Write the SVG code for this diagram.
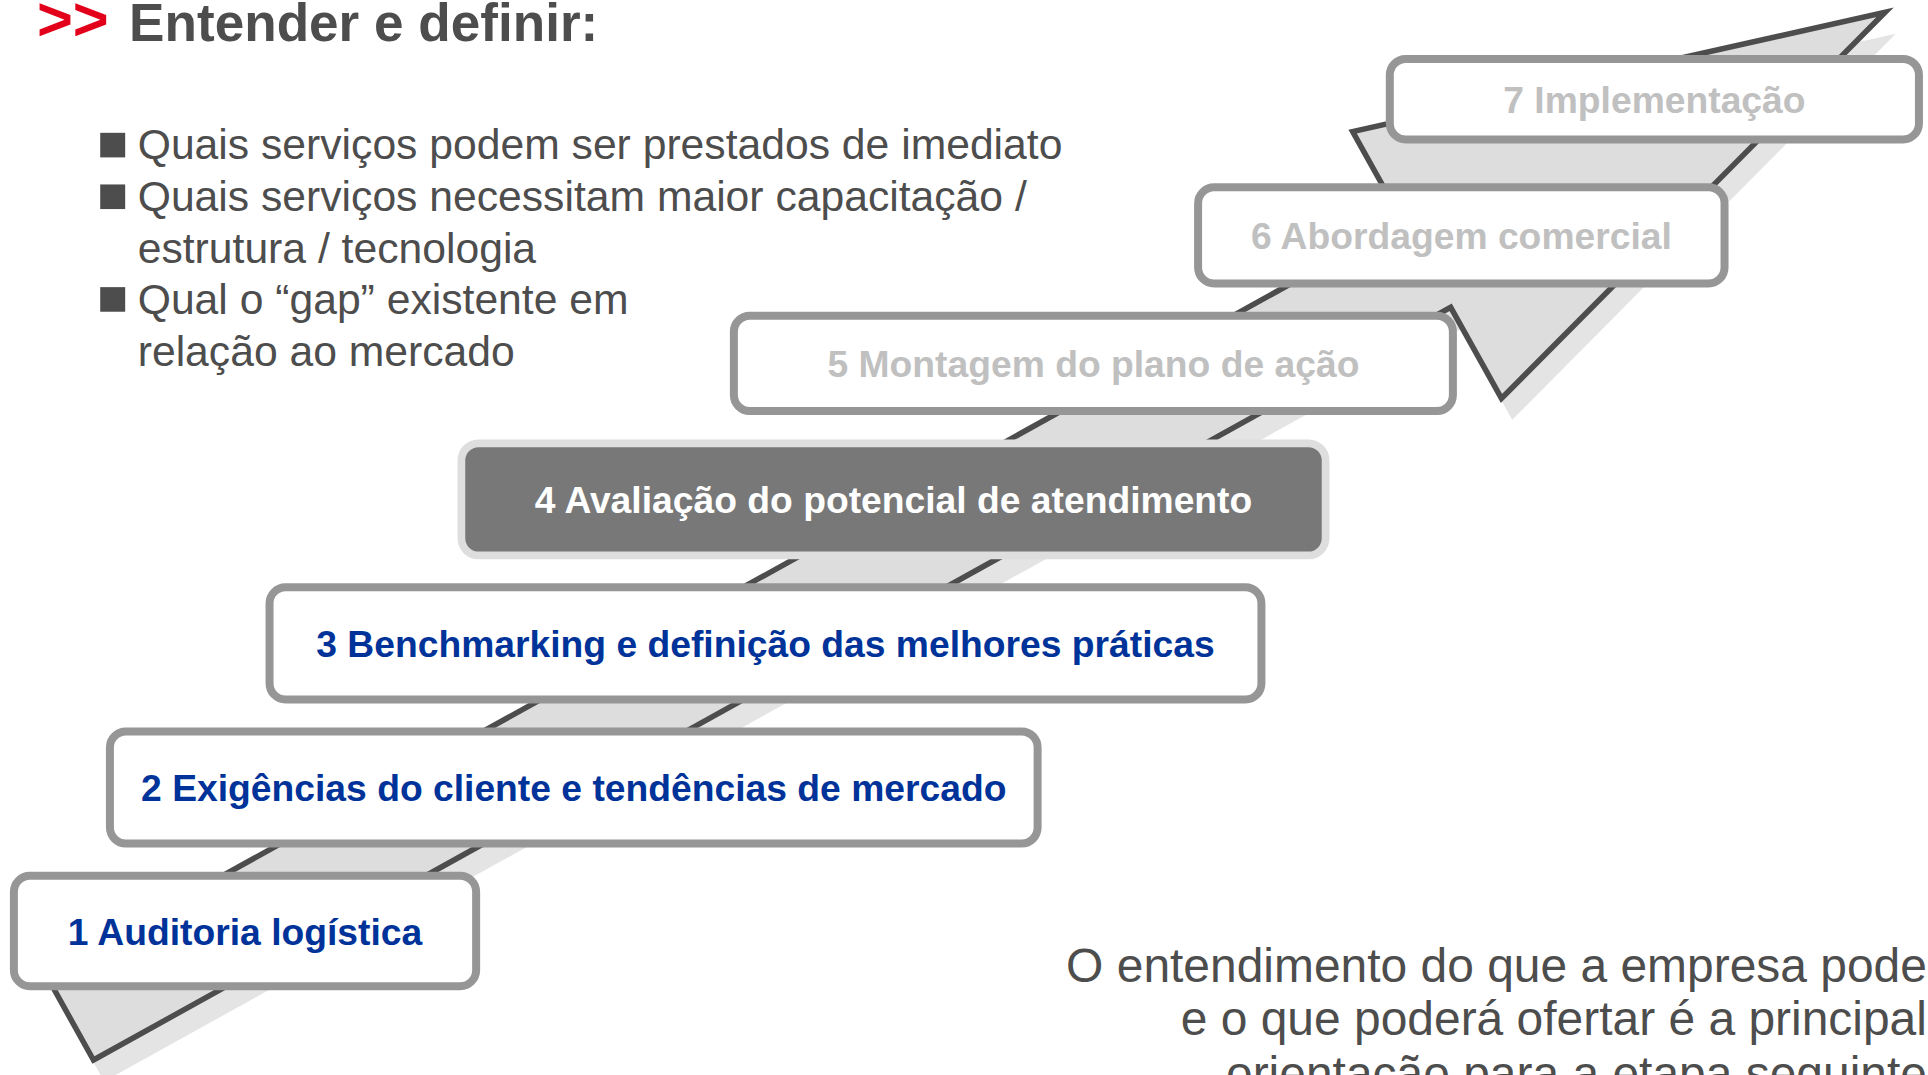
<svg xmlns="http://www.w3.org/2000/svg" width="1928" height="1075" viewBox="0 0 1928 1075">
  <style>
    .box { fill: #ffffff; stroke: #969696; stroke-width: 6.5; }
    .box4 { fill: #787878; stroke: #dedede; stroke-width: 6.3; }
    .lbl { font-family: "Liberation Sans", Arial, sans-serif; font-weight: bold; font-size: 30.3px; text-anchor: middle; }
    .blue { fill: #003399; }
    .white { fill: #ffffff; }
    .pale { fill: #c0c0c0; }
    .body { font-family: "Liberation Sans", Arial, sans-serif; font-size: 34.7px; fill: #4d4d4d; }
    .note { font-family: "Liberation Sans", Arial, sans-serif; font-size: 39px; fill: #4d4d4d; text-anchor: end; }
    .bullet { fill: #4d4d4d; }
  </style>
  <rect width="1928" height="1075" fill="#ffffff"/>
  <g transform="scale(1.2297)">
    <g id="backdrop-arrow">
      <polygon points="84.7,879.4 1188.4,267.3 1229.7,341.4 1541.7,27.4 1108.7,124.4 1149.5,197.6 45.7,809.4" fill="#e4e4e4"/>
      <polygon points="76,862 1179.7,249.9 1221,324 1533,10 1100,107 1140.8,180.2 37,792" fill="#dddddd" stroke="#4d4d4d" stroke-width="4.5" stroke-linejoin="miter"/>
    </g>

    <g id="heading">
      <text x="30" y="32.5" font-family="Liberation Sans, Arial, sans-serif" font-weight="bold" font-size="50" fill="#e2001a">&gt;&gt;</text>
      <text x="105" y="33" font-family="Liberation Sans, Arial, sans-serif" font-weight="bold" font-size="43.2" fill="#4d4d4d">Entender e definir:</text>
    </g>

    <g id="bullets">
      <rect class="bullet" x="81.5" y="108" width="20.3" height="20"/>
      <rect class="bullet" x="81.5" y="150" width="20.3" height="20"/>
      <rect class="bullet" x="81.5" y="233.5" width="20.3" height="20"/>
      <text class="body" x="112" y="129.5">Quais serviços podem ser prestados de imediato</text>
      <text class="body" x="112" y="171.5">Quais serviços necessitam maior capacitação /</text>
      <text class="body" x="112" y="213.5">estrutura / tecnologia</text>
      <text class="body" x="112" y="255.5">Qual o “gap” existente em</text>
      <text class="body" x="112" y="297.5">relação ao mercado</text>
    </g>

    <g id="step1">
      <rect class="box" x="11.3" y="712.2" width="375.9" height="89.8" rx="13"/>
      <text class="lbl blue" x="199.2" y="768.5">1 Auditoria logística</text>
    </g>
    <g id="step2">
      <rect class="box" x="89.4" y="594.8" width="754.4" height="91.2" rx="13"/>
      <text class="lbl blue" x="466.6" y="651.5">2 Exigências do cliente e tendências de mercado</text>
    </g>
    <g id="step3">
      <rect class="box" x="219.2" y="477.6" width="806.6" height="91.2" rx="13"/>
      <text class="lbl blue" x="622.5" y="534.2">3 Benchmarking e definição das melhores práticas</text>
    </g>
    <g id="step4">
      <rect class="box4" x="375.2" y="360.5" width="702.8" height="91.2" rx="14"/>
      <text class="lbl white" x="726.6" y="417.1">4 Avaliação do potencial de atendimento</text>
    </g>
    <g id="step5">
      <rect class="box" x="596.8" y="256.7" width="584.7" height="77.6" rx="13"/>
      <text class="lbl pale" x="889.2" y="306.5">5 Montagem do plano de ação</text>
    </g>
    <g id="step6">
      <rect class="box" x="974.3" y="152.3" width="428.1" height="78.2" rx="13"/>
      <text class="lbl pale" x="1188.4" y="202.4">6 Abordagem comercial</text>
    </g>
    <g id="step7">
      <rect class="box" x="1130.2" y="47.9" width="430.3" height="65.5" rx="13"/>
      <text class="lbl pale" x="1345.4" y="91.7">7 Implementação</text>
    </g>

    <g id="note">
      <text class="note" x="1567" y="798.4">O entendimento do que a empresa pode</text>
      <text class="note" x="1567" y="841.8">e o que poderá ofertar é a principal</text>
      <text class="note" x="1567" y="886">orientação para a etapa seguinte</text>
    </g>
  </g>
</svg>
